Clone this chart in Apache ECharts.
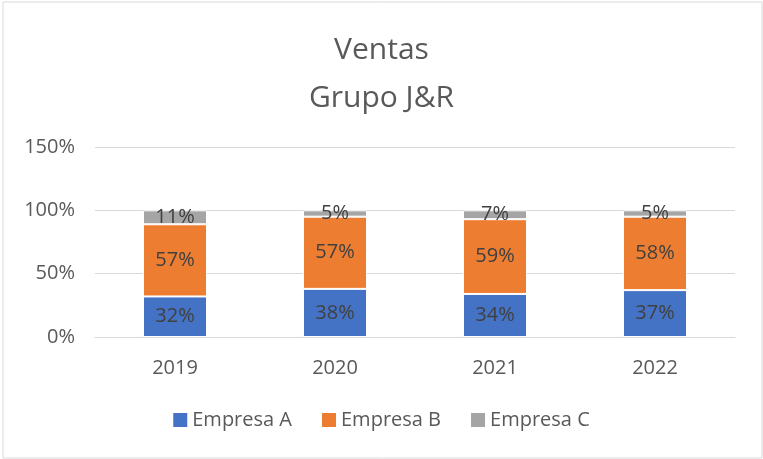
<!DOCTYPE html>
<html>
<head>
<meta charset="utf-8">
<script src="https://cdn.jsdelivr.net/npm/echarts@6/dist/echarts.min.js"></script>
<style>
  html, body { margin: 0; padding: 0; background: #fff; }
  #chart { width: 763px; height: 459px; }
</style>
</head>
<body>
<div id="chart"></div>
<script>
// Sales share per company, by year (percent of total)
const years = ['2019', '2020', '2021', '2022'];
const empresaA = [32, 38, 34, 37];
const empresaB = [57, 57, 59, 58];
const empresaC = [11, 5, 7, 5];
const seriesNames = ['Empresa A', 'Empresa B', 'Empresa C'];
const seriesColors = ['#4472c4', '#ed7d31', '#a5a5a5'];
const yTicks = [0, 50, 100, 150];

const FONT = '"Open Sans", "Noto Sans", sans-serif';

const chart = echarts.init(document.getElementById('chart'), null, { renderer: 'canvas' });

function makeSeries(name, data, color) {
  return {
    name: name,
    type: 'bar',
    stack: 'total',
    data: data,
    barWidth: '40%',
    itemStyle: { color: color, borderColor: '#ffffff', borderWidth: 1 },
    label: {
      show: true,
      position: 'inside',
      formatter: p => p.value + '%',
      color: '#404040',
      fontSize: 20,
      fontFamily: FONT
    },
    emphasis: { disabled: true }
  };
}

chart.setOption({
  animation: false,
  backgroundColor: '#ffffff',
  graphic: [{
    type: 'rect',
    shape: { x: 3, y: 2, width: 759, height: 456 },
    style: { fill: 'none', stroke: '#d9d9d9', lineWidth: 1 },
    silent: true
  }],
  title: {
    text: 'Ventas\nGrupo J&R',
    left: 'center',
    top: 21,
    textStyle: {
      color: '#595959',
      fontSize: 30,
      fontWeight: 'normal',
      fontFamily: FONT,
      lineHeight: 48
    }
  },
  legend: {
    data: seriesNames,
    bottom: 24,
    left: 'center',
    icon: 'rect',
    itemWidth: 14,
    itemHeight: 14,
    itemGap: 30,
    itemStyle: { borderWidth: 0 },
    textStyle: { color: '#595959', fontSize: 20, fontFamily: FONT }
  },
  grid: { left: 95, right: 28, top: 147, bottom: 122 },
  xAxis: {
    type: 'category',
    data: years,
    axisLine: { show: true, lineStyle: { color: '#d9d9d9', width: 1 } },
    axisTick: { show: false },
    axisLabel: { color: '#595959', fontSize: 20, fontFamily: FONT, margin: 21 }
  },
  yAxis: {
    type: 'value',
    min: yTicks[0],
    max: yTicks[yTicks.length - 1],
    interval: yTicks[1] - yTicks[0],
    axisLine: { show: false },
    axisTick: { show: false },
    splitLine: { lineStyle: { color: '#d9d9d9', width: 1 } },
    axisLabel: {
      color: '#595959',
      fontSize: 20,
      fontFamily: FONT,
      margin: 20,
      formatter: v => v + '%'
    }
  },
  series: [
    makeSeries(seriesNames[0], empresaA, seriesColors[0]),
    makeSeries(seriesNames[1], empresaB, seriesColors[1]),
    makeSeries(seriesNames[2], empresaC, seriesColors[2])
  ]
});
</script>
</body>
</html>
